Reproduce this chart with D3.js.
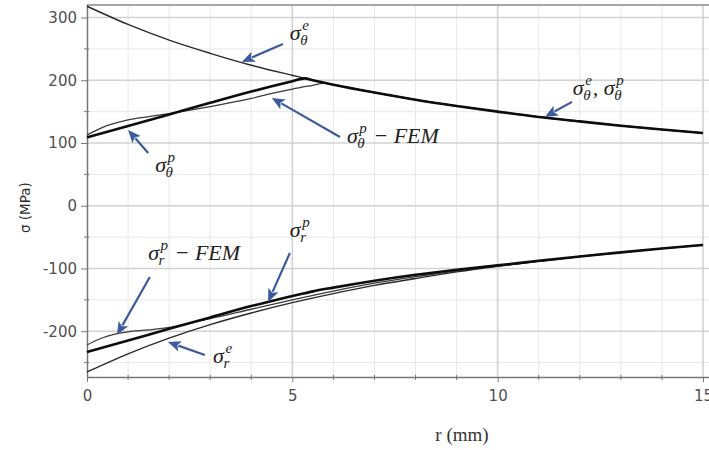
<!DOCTYPE html>
<html>
<head>
<meta charset="utf-8">
<script src="https://cdn.jsdelivr.net/npm/d3@7/dist/d3.min.js"></script>
<style>
  html, body { margin: 0; padding: 0; background: #ffffff; }
  svg { display: block; }
  .tick-label { font-family: "DejaVu Sans", sans-serif; font-size: 15px; fill: #505050; }
  .mb { font-family: "Liberation Serif", "DejaVu Serif", serif; font-style: italic; font-size: 22px; fill: #222; }
  .ms { font-family: "Liberation Serif", "DejaVu Serif", serif; font-style: italic; font-size: 15px; fill: #222; }
</style>
</head>
<body>
<svg id="chart" width="709" height="450"></svg>
<script>
// ---------------- data ----------------
const xTicks = [0, 5, 10, 15];
const xMinorTicks = [1, 2, 3, 4, 6, 7, 8, 9, 11, 12, 13, 14];
const yTicks = [-200, -100, 0, 100, 200, 300];
const yMinorTicks = [-250, -150, -50, 50, 150, 250];

// elastic solution
const rElastic = [0, 1, 2, 3, 4, 5, 6, 7, 8, 9, 10, 11, 12, 13, 14, 15];
const sigmaThetaE = [318, 289, 264, 243, 224, 208, 193, 180.5, 169, 159, 150, 141.5, 134.5, 127.5, 121.5, 116];
const sigmaRE = [-265, -236, -211, -189.5, -171, -154.5, -140, -127, -116, -105.5, -96.5, -88.5, -81, -74.5, -68, -62.5];

// elastic-plastic solution
const rPlastic = [0, 1, 2, 3, 4, 4.5, 5, 5.3, 5.5, 6, 7, 8, 9, 10, 11, 12, 13, 14, 15];
const sigmaThetaP = [109, 127, 145.5, 164, 182, 190.5, 198.5, 203, 200, 193, 180.5, 169, 159, 150, 141.5, 134.5, 127.5, 121.5, 116];
const sigmaRP = [-233, -215, -196, -178, -160, -152, -144, -139.5, -136.5, -130.5, -119.5, -110, -102, -95, -87.8, -80.8, -74.3, -68.1, -62.6];

// FEM results
const rFemTheta = [0, 0.25, 0.5, 0.75, 1, 1.5, 2, 3, 4, 4.5, 5, 5.5, 5.8, 6, 7, 8, 9, 10, 11, 12, 13, 14, 15];
const sigmaThetaFEM = [113, 121, 128, 133, 137, 142, 147, 158, 171, 179, 186, 192, 195.5, 193, 180.5, 169, 159, 150, 141.5, 134.5, 127.5, 121.5, 116];
const rFemR = [0, 0.25, 0.5, 0.75, 1, 1.5, 2, 2.5, 3, 4, 5, 6, 7, 8, 9, 10, 11, 12, 13, 14, 15];
const sigmaRFEM = [-222, -214, -208, -203.5, -201, -198, -194, -187, -180, -165, -150, -136, -123.5, -113, -104, -96, -88.3, -81, -74.4, -68.2, -62.7];

// annotation labels (data coordinates of label start / arrow tail / arrow tip)
const annotations = [
  { at: [4.94, 264.4], parts: [{ b: "σ", sup: "e", sub: "θ" }], tail: [4.77, 258], tip: [3.77, 229.3] },
  { at: [1.66, 53.9], parts: [{ b: "σ", sup: "p", sub: "θ" }], tail: [1.49, 84.2], tip: [1.0, 120.9] },
  { at: [6.33, 100.2], parts: [{ b: "σ", sup: "p", sub: "θ" }, { t: " − FEM" }], tail: [6.16, 109.7], tip: [4.5, 171.9] },
  { at: [11.83, 176.7], parts: [{ b: "σ", sup: "e", sub: "θ" }, { t: ", " }, { b: "σ", sup: "p", sub: "θ" }], tail: [11.81, 165.6], tip: [11.15, 141.6] },
  { at: [1.49, -86.4], parts: [{ b: "σ", sup: "p", sub: "r" }, { t: " − FEM" }], tail: [1.53, -113.6], tip: [0.73, -206] },
  { at: [4.94, -49.8], parts: [{ b: "σ", sup: "p", sub: "r" }], tail: [4.94, -75.3], tip: [4.41, -153.4] },
  { at: [3.07, -250.7], parts: [{ b: "σ", sup: "e", sub: "r" }], tail: [2.87, -238], tip: [1.97, -217.2] }
];

// ---------------- drawing ----------------
const svg = d3.select("#chart");
const x = d3.scaleLinear().domain([0, 15]).range([87, 703]);
const y = d3.scaleLinear().domain([-273, 320]).range([377, 5]);
const x0 = x.range()[0], x1 = 709, yTop = y.range()[1], yBot = y.range()[0];

// minor grid
svg.append("g").selectAll("line.vmin").data(xMinorTicks).join("line")
  .attr("x1", d => x(d)).attr("x2", d => x(d)).attr("y1", yTop).attr("y2", yBot)
  .attr("stroke", "#e8e8e8").attr("stroke-width", 1);
svg.append("g").selectAll("line.hmin").data(yMinorTicks).join("line")
  .attr("x1", x0).attr("x2", x1).attr("y1", d => y(d)).attr("y2", d => y(d))
  .attr("stroke", "#e8e8e8").attr("stroke-width", 1);
// major grid
svg.append("g").selectAll("line.vmaj").data(xTicks.filter(d => d > 0)).join("line")
  .attr("x1", d => x(d)).attr("x2", d => x(d)).attr("y1", yTop).attr("y2", yBot)
  .attr("stroke", "#d2d2d2").attr("stroke-width", 1.6);
svg.append("g").selectAll("line.hmaj").data(yTicks).join("line")
  .attr("x1", x0).attr("x2", x1).attr("y1", d => y(d)).attr("y2", d => y(d))
  .attr("stroke", "#d2d2d2").attr("stroke-width", 1.6);

// top frame
svg.append("line").attr("x1", x0).attr("x2", x1).attr("y1", yTop).attr("y2", yTop)
  .attr("stroke", "#8a8a8a").attr("stroke-width", 1.5);

// x axis
const xAxis = svg.append("g").attr("transform", `translate(0,${yBot})`)
  .call(d3.axisBottom(x).tickValues(xTicks).tickSize(5).tickFormat(d3.format("d")));
xAxis.select(".domain").attr("d", `M${x0},0.5H${x1}`).attr("stroke", "#777").attr("stroke-width", 1.5);
xAxis.selectAll(".tick line").attr("stroke", "#777");
xAxis.selectAll(".tick text").attr("class", "tick-label").attr("dy", "1.05em").attr("font-size", null).attr("font-family", null).attr("fill", null);
svg.append("g").selectAll("line").data(xMinorTicks).join("line")
  .attr("x1", d => x(d)).attr("x2", d => x(d)).attr("y1", yBot - 2).attr("y2", yBot + 3)
  .attr("stroke", "#777").attr("stroke-width", 1);

// y axis
const yAxis = svg.append("g").attr("transform", `translate(${x0},0)`)
  .call(d3.axisLeft(y).tickValues(yTicks).tickSize(6).tickPadding(4).tickFormat(d => d < 0 ? "-" + Math.abs(d) : d));
yAxis.select(".domain").attr("d", `M0.5,${yTop}V${yBot}`).attr("stroke", "#777").attr("stroke-width", 1.5);
yAxis.selectAll(".tick line").attr("stroke", "#777");
yAxis.selectAll(".tick text").attr("class", "tick-label").attr("font-size", null).attr("font-family", null).attr("fill", null);
svg.append("g").selectAll("line").data(yMinorTicks).join("line")
  .attr("x1", x0 - 3).attr("x2", x0 + 2).attr("y1", d => y(d)).attr("y2", d => y(d))
  .attr("stroke", "#777").attr("stroke-width", 1);

// axis titles
svg.append("text").attr("transform", `translate(30,${y(-3)}) rotate(-90)`)
  .attr("text-anchor", "middle").attr("font-family", "DejaVu Sans, sans-serif")
  .attr("font-size", 13.5).attr("fill", "#2a2a2a").text("σ (MPa)");
svg.append("text").attr("x", 462).attr("y", 441).attr("text-anchor", "middle")
  .attr("font-family", "Liberation Serif, serif").attr("font-size", 19).attr("fill", "#333").text("r (mm)");

// curves
const line = (xs, ys) => d3.line().curve(d3.curveMonotoneX)
  .x((d, i) => x(xs[i])).y(d => y(d))(ys);
const plot = svg.append("g").attr("fill", "none");
plot.append("path").attr("d", line(rFemTheta, sigmaThetaFEM)).attr("stroke", "#3a3a3a").attr("stroke-width", 1.3);
plot.append("path").attr("d", line(rFemR, sigmaRFEM)).attr("stroke", "#3a3a3a").attr("stroke-width", 1.3);
plot.append("path").attr("d", line(rElastic, sigmaThetaE)).attr("stroke", "#2a2a2a").attr("stroke-width", 1.4);
plot.append("path").attr("d", line(rElastic, sigmaRE)).attr("stroke", "#2a2a2a").attr("stroke-width", 1.4);
plot.append("path").attr("d", line(rPlastic, sigmaThetaP)).attr("stroke", "#0d0d0d").attr("stroke-width", 2.6);
plot.append("path").attr("d", line(rPlastic, sigmaRP)).attr("stroke", "#0d0d0d").attr("stroke-width", 2.6);

// annotations
const ann = svg.append("g");
const arrowColor = "#3c5a9c";
annotations.forEach(a => {
  let cx = x(a.at[0]);
  const by = y(a.at[1]);
  a.parts.forEach(p => {
    if (p.b) {
      const t = ann.append("text").attr("class", "mb").attr("x", cx).attr("y", by).text(p.b);
      const w = t.node().getComputedTextLength();
      const sx = cx + w + 0.5;
      const s1 = ann.append("text").attr("class", "ms").attr("x", sx + 1).attr("y", by - 10).text(p.sup);
      const s2 = ann.append("text").attr("class", "ms").attr("x", sx - 1).attr("y", by + 5).text(p.sub);
      cx = sx + Math.max(s1.node().getComputedTextLength() + 1, s2.node().getComputedTextLength() - 1) + 1;
    } else {
      const t = ann.append("text").attr("class", "mb").attr("x", cx).attr("y", by)
        .attr("xml:space", "preserve").style("white-space", "pre").text(p.t);
      cx += t.node().getComputedTextLength();
    }
  });
  const tx = x(a.tail[0]), ty = y(a.tail[1]);
  const hx = x(a.tip[0]), hy = y(a.tip[1]);
  const ang = Math.atan2(hy - ty, hx - tx);
  const L = 13, W = 5.5;
  const bx = hx - L * Math.cos(ang), byy = hy - L * Math.sin(ang);
  ann.append("line").attr("x1", tx).attr("y1", ty).attr("x2", bx + 2 * Math.cos(ang)).attr("y2", byy + 2 * Math.sin(ang))
    .attr("stroke", arrowColor).attr("stroke-width", 2.2);
  const px = -Math.sin(ang), py = Math.cos(ang);
  ann.append("path")
    .attr("d", `M${hx},${hy}L${bx + W * px},${byy + W * py}L${bx + 3 * Math.cos(ang)},${byy + 3 * Math.sin(ang)}L${bx - W * px},${byy - W * py}Z`)
    .attr("fill", arrowColor);
});
</script>
</body>
</html>
